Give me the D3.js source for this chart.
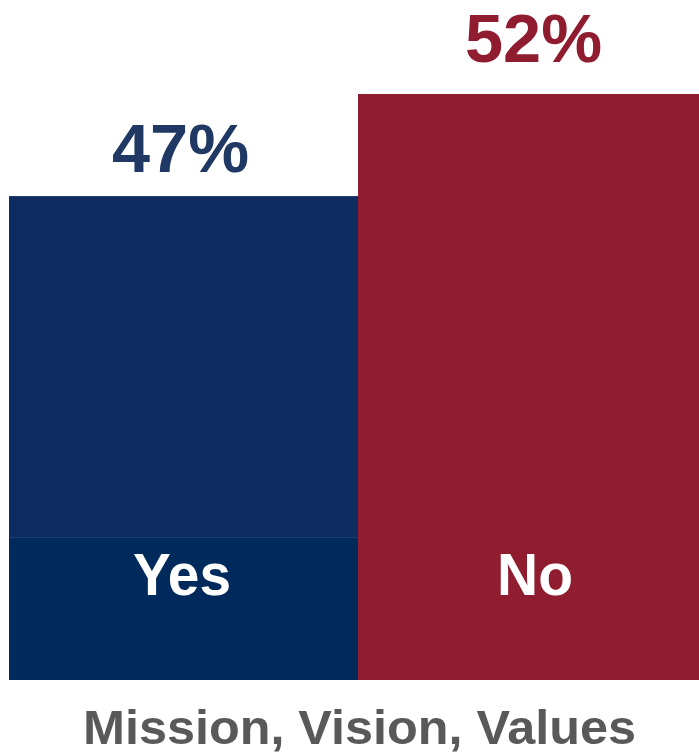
<!DOCTYPE html>
<html>
<head>
<meta charset="utf-8">
<script src="https://cdn.jsdelivr.net/npm/d3@7"></script>
<style>
  html, body { margin: 0; padding: 0; background: #ffffff; overflow: hidden; }
  svg { display: block; }
</style>
</head>
<body>
<svg id="chart" width="699" height="755"></svg>
<script>
// Survey answers for the "Mission, Vision, Values" question
const categories = ["Yes", "No"];
const values = [47, 52];
const valueLabels = ["47%", "52%"];
const barColors = ["#0e2c5f", "#8f1c2f"];
const bandColors = ["#002a5c", "#8f1c2f"];
const labelColors = ["#1f3864", "#8f1c2f"];
const axisTitle = "Mission, Vision, Values";
const yDomain = [23.3, 52];

const svg = d3.select("#chart");

// the right bar runs past the edge of the canvas
const x = d3.scaleBand()
  .domain(categories)
  .range([9, 707])
  .paddingInner(0)
  .paddingOuter(0);

const y = d3.scaleLinear()
  .domain(yDomain)
  .range([680, 94]);

const bandTop = 537;

const data = categories.map((c, i) => ({
  cat: c, value: values[i], label: valueLabels[i],
  color: barColors[i], band: bandColors[i], labelColor: labelColors[i]
}));

const cx = d => x(d.cat) + x.bandwidth() / 2;

// bars
svg.selectAll("rect.bar")
  .data(data)
  .join("rect")
  .attr("class", "bar")
  .attr("x", d => x(d.cat))
  .attr("width", x.bandwidth())
  .attr("y", d => y(d.value))
  .attr("height", d => y.range()[0] - y(d.value))
  .attr("fill", d => d.color);

// category label boxes at the foot of each bar
svg.selectAll("rect.band")
  .data(data)
  .join("rect")
  .attr("class", "band")
  .attr("x", d => x(d.cat))
  .attr("width", x.bandwidth())
  .attr("y", bandTop)
  .attr("height", y.range()[0] - bandTop)
  .attr("fill", d => d.band);

// thin separator line above the label box
svg.selectAll("line.sep")
  .data(data.filter(d => d.band !== d.color))
  .join("line")
  .attr("class", "sep")
  .attr("x1", d => x(d.cat))
  .attr("x2", d => x(d.cat) + x.bandwidth())
  .attr("y1", bandTop + 0.5)
  .attr("y2", bandTop + 0.5)
  .attr("stroke", "#1d3a6a")
  .attr("stroke-width", 1);

// category names
svg.selectAll("text.cat")
  .data(data)
  .join("text")
  .attr("class", "cat")
  .attr("x", d => cx(d) + (d.cat === "Yes" ? -1.5 : 2.5))
  .attr("y", 595)
  .attr("text-anchor", "middle")
  .attr("font-family", "'Liberation Sans', Arial, sans-serif")
  .attr("font-weight", "bold")
  .attr("font-size", 59)
  .attr("fill", "#ffffff")
  .attr("textLength", d => d.cat === "Yes" ? 98 : 76)
  .attr("lengthAdjust", "spacingAndGlyphs")
  .text(d => d.cat);

// value labels above the bars
svg.selectAll("text.val")
  .data(data)
  .join("text")
  .attr("class", "val")
  .attr("x", d => cx(d) + (d.cat === "Yes" ? -3 : 1))
  .attr("y", d => y(d.value) - (d.cat === "Yes" ? 24 : 32))
  .attr("text-anchor", "middle")
  .attr("font-family", "'Liberation Sans', Arial, sans-serif")
  .attr("font-weight", "bold")
  .attr("font-size", 69)
  .attr("fill", d => d.labelColor)
  .attr("textLength", 137)
  .attr("lengthAdjust", "spacingAndGlyphs")
  .text(d => d.label);

// axis title
svg.append("text")
  .attr("x", 359.5)
  .attr("y", 744)
  .attr("text-anchor", "middle")
  .attr("font-family", "'Liberation Sans', Arial, sans-serif")
  .attr("font-weight", "bold")
  .attr("font-size", 48)
  .attr("fill", "#595959")
  .attr("textLength", 553)
  .attr("lengthAdjust", "spacingAndGlyphs")
  .text(axisTitle);
</script>
</body>
</html>
